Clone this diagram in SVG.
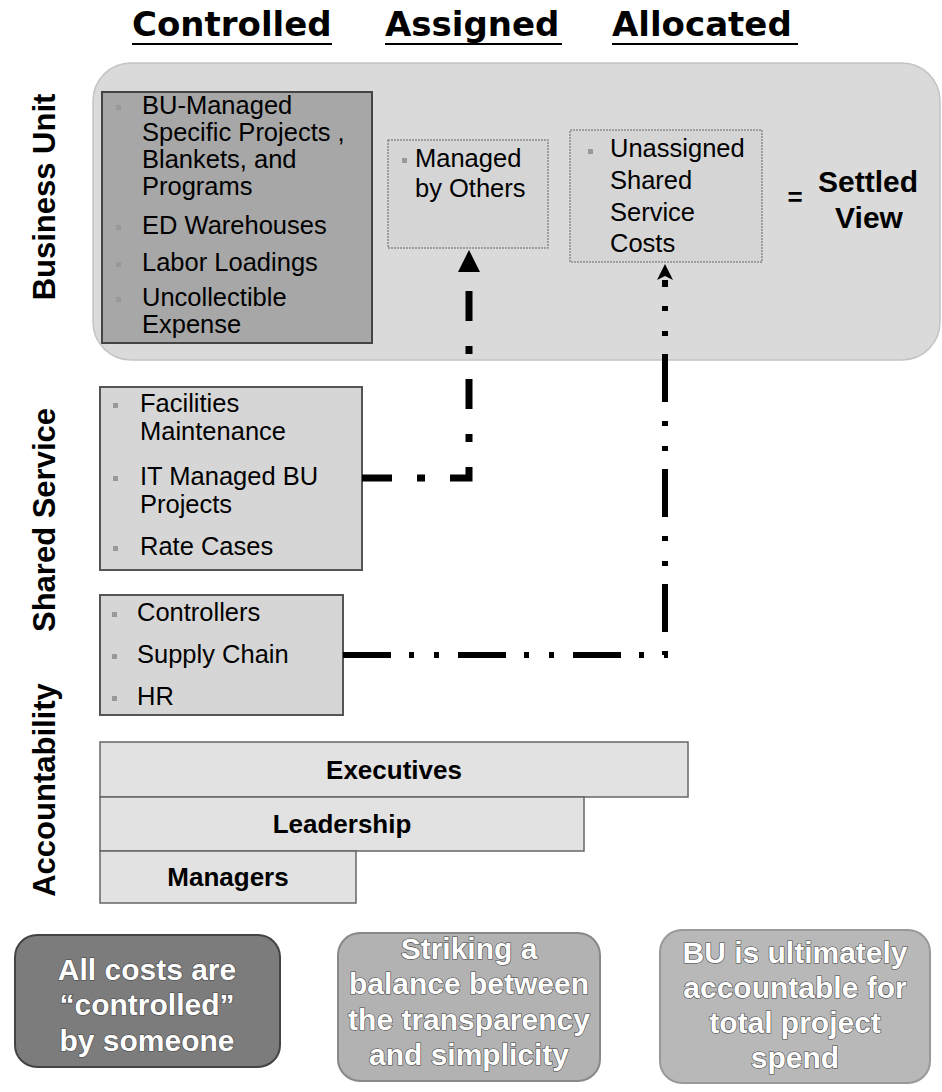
<svg xmlns="http://www.w3.org/2000/svg" width="942" height="1092" viewBox="0 0 942 1092">
<style>
.hdr{font-family:"DejaVu Sans","Liberation Sans",sans-serif;font-weight:bold;font-size:34px;fill:#000}
.ul{stroke:#000;stroke-width:2}
.side{font-family:"Liberation Sans",Arial,sans-serif;font-weight:bold;font-size:31px;fill:#000;text-anchor:middle}
.t{font-family:"Liberation Sans",Arial,sans-serif;font-size:25.5px;fill:#000}
.tb{font-family:"Liberation Sans",Arial,sans-serif;font-weight:bold;font-size:26px;fill:#000;text-anchor:middle}
.sv{font-family:"Liberation Sans",Arial,sans-serif;font-weight:bold;font-size:30px;fill:#000;text-anchor:middle}
.w{font-family:"Liberation Sans",Arial,sans-serif;font-weight:bold;font-size:30px;fill:#fff;text-anchor:middle;stroke:#444;stroke-width:1.2;paint-order:stroke}
.bul{fill:#999}
.bg{fill:#dadada;stroke:#c4c4c4;stroke-width:1.5}
.dark{fill:#a7a7a7;stroke:#444;stroke-width:2}
.soft{fill:#d5d5d5;stroke:#8a8a8a;stroke-width:1.5;stroke-dasharray:2 1}
.ss{fill:#d6d6d6;stroke:#555;stroke-width:2}
.bar{fill:#e2e2e2;stroke:#666;stroke-width:1.5}
.c1{fill:none;stroke:#000;stroke-width:7;stroke-dasharray:30 25 8 25}
.c2{fill:none;stroke:#000;stroke-width:6;stroke-dasharray:48 18 5 20 5 19}
</style>
<defs>
<marker id="ah1" viewBox="0 0 22 22" refX="0" refY="11" markerWidth="22" markerHeight="22" markerUnits="userSpaceOnUse" orient="auto"><path d="M0,0 L22,11 L0,22 z" fill="#000"/></marker>
<marker id="ah2" viewBox="0 0 16 16" refX="0" refY="8" markerWidth="16" markerHeight="16" markerUnits="userSpaceOnUse" orient="auto"><path d="M0,0 L16,8 L0,16 L4,8 z" fill="#000"/></marker>
</defs>

<g id="headers">
<text class="hdr" x="132" y="36">Controlled</text>
<line class="ul" x1="132" y1="44" x2="332" y2="44"/>
<text class="hdr" x="385" y="36">Assigned</text>
<line class="ul" x1="385" y1="44" x2="562" y2="44"/>
<text class="hdr" x="612" y="36">Allocated</text>
<line class="ul" x1="612" y1="44" x2="798" y2="44"/>
</g>

<g id="side-labels">
<text class="side" transform="translate(55,197) rotate(-90)">Business Unit</text>
<text class="side" transform="translate(55,520) rotate(-90)">Shared Service</text>
<text class="side" transform="translate(55,790) rotate(-90)">Accountability</text>
</g>

<g id="business-unit">
<rect class="bg" x="93" y="63" width="847" height="297" rx="38"/>
</g>

<g id="bu-controlled">
<rect class="dark" x="102" y="92" width="270" height="251"/>
<rect class="bul" x="116" y="105" width="5" height="5"/>
<text class="t" x="142" y="114">BU-Managed</text>
<text class="t" x="142" y="141">Specific Projects ,</text>
<text class="t" x="142" y="168">Blankets, and</text>
<text class="t" x="142" y="195">Programs</text>
<rect class="bul" x="116" y="225" width="5" height="5"/>
<text class="t" x="142" y="234">ED Warehouses</text>
<rect class="bul" x="116" y="262" width="5" height="5"/>
<text class="t" x="142" y="271">Labor Loadings</text>
<rect class="bul" x="116" y="297" width="5" height="5"/>
<text class="t" x="142" y="306">Uncollectible</text>
<text class="t" x="142" y="333">Expense</text>
</g>

<g id="managed-by-others">
<rect class="soft" x="388" y="140" width="160" height="108"/>
<rect class="bul" x="402" y="158" width="5" height="5"/>
<text class="t" x="415" y="167">Managed</text>
<text class="t" x="415" y="197">by Others</text>
</g>

<g id="unassigned">
<rect class="soft" x="570" y="130" width="192" height="132"/>
<rect class="bul" x="588" y="149" width="5" height="5"/>
<text class="t" x="610" y="157">Unassigned</text>
<text class="t" x="610" y="189">Shared</text>
<text class="t" x="610" y="221">Service</text>
<text class="t" x="610" y="252">Costs</text>
</g>

<g id="settled-view">
<text class="sv" x="795" y="206" style="font-size:26px">=</text>
<text class="sv" x="868" y="192">Settled</text>
<text class="sv" x="869" y="228">View</text>
</g>

<g id="shared-service-1">
<rect class="ss" x="100" y="387" width="262" height="183"/>
<rect class="bul" x="113" y="403" width="5" height="5"/>
<text class="t" x="140" y="412">Facilities</text>
<text class="t" x="140" y="440">Maintenance</text>
<rect class="bul" x="113" y="476" width="5" height="5"/>
<text class="t" x="140" y="485">IT Managed BU</text>
<text class="t" x="140" y="513">Projects</text>
<rect class="bul" x="113" y="546" width="5" height="5"/>
<text class="t" x="140" y="555">Rate Cases</text>
</g>

<g id="shared-service-2">
<rect class="ss" x="100" y="595" width="243" height="120"/>
<rect class="bul" x="112" y="612" width="5" height="5"/>
<text class="t" x="137" y="621">Controllers</text>
<rect class="bul" x="112" y="654" width="5" height="5"/>
<text class="t" x="137" y="663">Supply Chain</text>
<rect class="bul" x="112" y="696" width="5" height="5"/>
<text class="t" x="137" y="705">HR</text>
</g>

<g id="connectors">
<path class="c1" d="M362,478 H469 V272" marker-end="url(#ah1)"/>
<path class="c2" d="M343,655 H665 V280" marker-end="url(#ah2)"/>
</g>

<g id="executives">
<rect class="bar" x="100" y="742" width="588" height="55"/>
<text class="tb" x="394" y="779">Executives</text>
</g>
<g id="leadership">
<rect class="bar" x="100" y="797" width="484" height="54"/>
<text class="tb" x="342" y="833">Leadership</text>
</g>
<g id="managers">
<rect class="bar" x="100" y="851" width="256" height="52"/>
<text class="tb" x="228" y="886">Managers</text>
</g>

<g id="note-controlled">
<rect x="15" y="935" width="265" height="132" rx="22" fill="#7c7c7c" stroke="#444" stroke-width="2"/>
<text class="w" x="147" y="980">All costs are</text>
<text class="w" x="147" y="1015">“controlled”</text>
<text class="w" x="147" y="1051">by someone</text>
</g>
<g id="note-balance">
<rect x="338" y="933" width="262" height="148" rx="22" fill="#b2b2b2" stroke="#888" stroke-width="2"/>
<text class="w" x="469" y="959">Striking a</text>
<text class="w" x="469" y="994">balance between</text>
<text class="w" x="469" y="1030">the transparency</text>
<text class="w" x="469" y="1065">and simplicity</text>
</g>
<g id="note-accountable">
<rect x="660" y="930" width="270" height="153" rx="22" fill="#b8b8b8" stroke="#999" stroke-width="2"/>
<text class="w" x="795" y="963">BU is ultimately</text>
<text class="w" x="795" y="998">accountable for</text>
<text class="w" x="795" y="1033">total project</text>
<text class="w" x="795" y="1068">spend</text>
</g>
</svg>
